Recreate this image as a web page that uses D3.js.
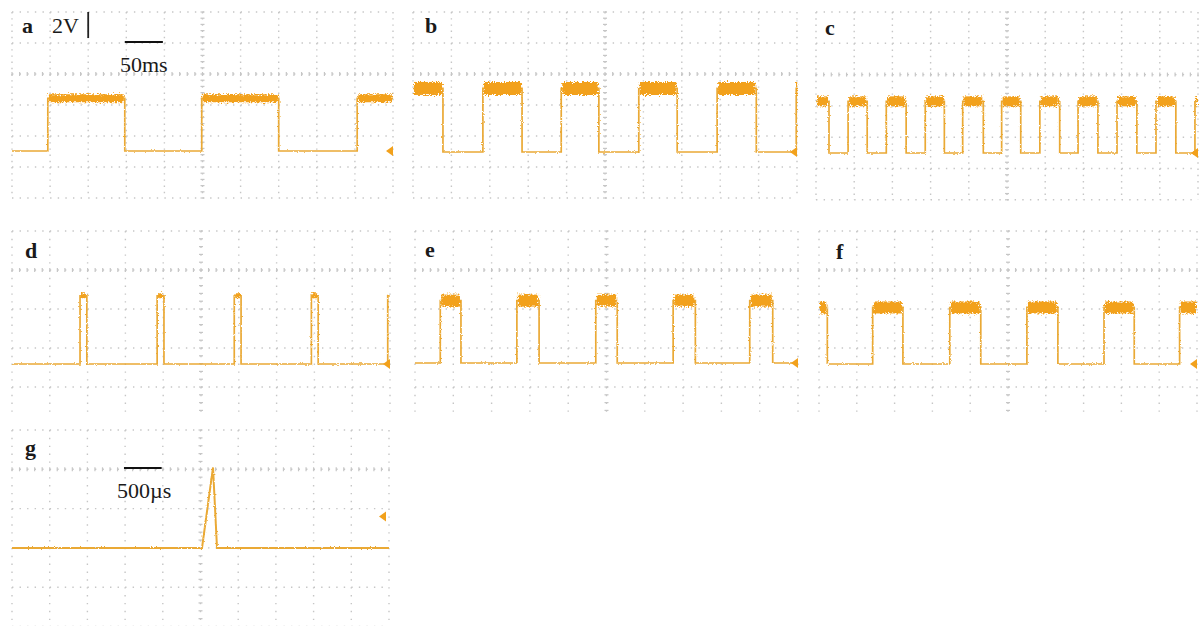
<!DOCTYPE html>
<html>
<head>
<meta charset="utf-8">
<script src="https://cdnjs.cloudflare.com/ajax/libs/d3/7.8.5/d3.min.js"></script>
<style>
body { margin: 0; background: #fff; }
svg { display: block; }
text { font-family: "Liberation Serif", "Times New Roman", serif; fill: #1a1a1a; }
</style>
</head>
<body>
<script>
// Oscilloscope traces a-g, 2 V/div, 50 ms/div (a-f) and 500 us/div (g)

// edge times in ms where each square wave toggles
var edgesA = [47, 148, 249, 350, 453];
var edgesB = [39, 91, 142, 193, 242, 294, 344, 396, 447, 499];
var edgesC = [17, 42, 67, 92, 118, 143, 168, 192, 219, 243,
              268, 293, 319, 343, 369, 394, 420, 445, 471, 496];
var edgesD = [90, 99, 192, 201, 294, 303, 396, 405, 497];
var edgesE = [33, 60, 133, 162, 236, 264, 337, 366, 437, 467];
var edgesF = [11, 71, 111, 173, 214, 275, 316, 377, 417, 477];
var startHigh = [false, true, true, false, false, true];
var highVolts = [3.4, 4.1, 3.3, 3.5, 3.2, 2.9];

// panel g: single spike, time in us, level in V
var spikeTimes = [0, 2520, 2666, 2719, 5000];
var spikeVolts = [0, 0, 4.1, 0, 0];
var triggerG = 1.6;

var panelLabels = ["a", "b", "c", "d", "e", "f", "g"];
var voltLabel = "2V";
var timeLabels = ["50ms", "500\u00b5s"];
var msPerDiv = 50, usPerDiv = 500;

var W = 1203, H = 626;
var traceColor = "#eaa935", bandColor = "#f2a11c", gridColor = "#c6c6c6";

// screen geometry of each panel
var layout = [
    {x0: 12, x1: 393, y0: 12, y1: 198, div: 31, ground: 151, dense: 2,
     lx: 22, ly: 33, band: 8},
    {x0: 413, x1: 797, y0: 12, y1: 198, div: 31, ground: 152, dense: 2,
     lx: 425, ly: 33, band: 13},
    {x0: 816, x1: 1198, y0: 12, y1: 200, div: 31.3, ground: 153, dense: 2,
     lx: 825, ly: 35, band: 10},
    {x0: 12, x1: 390, y0: 231, y1: 417, div: 39, ground: 364, dense: 1,
     lx: 25, ly: 258, band: 5},
    {x0: 415, x1: 798, y0: 231, y1: 417, div: 39, ground: 363, dense: 1,
     lx: 425, ly: 257, band: 12},
    {x0: 819, x1: 1197, y0: 231, y1: 417, div: 39, ground: 364, dense: 1,
     lx: 836, ly: 259, band: 12},
    {x0: 12, x1: 389, y0: 430, y1: 626, div: 39.3, ground: 548, dense: 1,
     lx: 25, ly: 455, band: 0}
];

var svg = d3.select("body").append("svg")
    .attr("width", W)
    .attr("height", H);

svg.append("rect").attr("width", W).attr("height", H).attr("fill", "#fff");

var defs = svg.append("defs");
function roughFilter(id, amount, seed) {
    var f = defs.append("filter").attr("id", id)
        .attr("filterUnits", "userSpaceOnUse")
        .attr("x", 0).attr("y", 0).attr("width", W).attr("height", H);
    f.append("feTurbulence").attr("type", "fractalNoise")
        .attr("baseFrequency", "0.7 0.9").attr("numOctaves", 2)
        .attr("seed", seed).attr("result", "n");
    f.append("feDisplacementMap").attr("in", "SourceGraphic").attr("in2", "n")
        .attr("scale", amount)
        .attr("xChannelSelector", "R").attr("yChannelSelector", "G");
}
roughFilter("roughBand", 6, 3);
roughFilter("roughLine", 2.5, 7);

function drawGrid(g, p) {
    var col = (p.x1 - p.x0) / 10;
    var xs = d3.range(11).map(function(i) { return p.x0 + i * col; });
    var ys = [];
    for (var y = p.y0; y <= p.y1 + 0.5; y += p.div) ys.push(y);

    g.selectAll(".hl").data(ys).enter().append("line")
        .attr("x1", p.x0).attr("x2", p.x1)
        .attr("y1", function(d) { return d; })
        .attr("y2", function(d) { return d; })
        .attr("stroke", gridColor).attr("stroke-width", 1.4)
        .attr("stroke-dasharray", "1.4," + (col / 5 - 1.4));
    g.selectAll(".vl").data(xs).enter().append("line")
        .attr("y1", p.y0).attr("y2", p.y1)
        .attr("x1", function(d) { return d; })
        .attr("x2", function(d) { return d; })
        .attr("stroke", gridColor).attr("stroke-width", 1.4)
        .attr("stroke-dasharray", "1.4," + (p.div / 5 - 1.4));

    // minor ticks on the centre lines
    var yd = p.y0 + p.dense * p.div;
    var hx = d3.range(0, 51).map(function(i) { return p.x0 + i * col / 5; });
    g.selectAll(".ht").data(hx).enter().append("line")
        .attr("x1", function(d) { return d; })
        .attr("x2", function(d) { return d; })
        .attr("y1", yd - 2).attr("y2", yd + 2)
        .attr("stroke", gridColor).attr("stroke-width", 1.2);
    var xc = p.x0 + 5 * col;
    var vy = [];
    for (var t = p.y0; t <= p.y1 + 0.5; t += p.div / 5) vy.push(t);
    g.selectAll(".vt").data(vy).enter().append("line")
        .attr("y1", function(d) { return d; })
        .attr("y2", function(d) { return d; })
        .attr("x1", xc - 2).attr("x2", xc + 2)
        .attr("stroke", gridColor).attr("stroke-width", 1.2);
}

function stepPoints(edges, high0, high, tEnd) {
    var v = high0 ? high : 0;
    var pts = [[0, v]];
    edges.forEach(function(t) {
        v = (v === 0) ? high : 0;
        pts.push([t, v]);
    });
    pts.push([tEnd, v]);
    return pts;
}

function arrow(g, x, y) {
    g.append("path")
        .attr("d", "M" + (x - 7) + "," + y + "L" + x + "," + (y - 5) +
              "L" + x + "," + (y + 5) + "Z")
        .attr("fill", bandColor);
}

var allEdges = [edgesA, edgesB, edgesC, edgesD, edgesE, edgesF];

layout.forEach(function(p, i) {
    var g = svg.append("g");
    drawGrid(g, p);

    var isG = (i === 6);
    var tEnd = isG ? 10 * usPerDiv : 10 * msPerDiv;
    var x = d3.scaleLinear().domain([0, tEnd]).range([p.x0, p.x1]);
    var y = d3.scaleLinear().domain([0, 2]).range([p.ground, p.ground - p.div]);

    if (!isG) {
        var pts = stepPoints(allEdges[i], startHigh[i], highVolts[i], tEnd);
        var line = d3.line()
            .x(function(d) { return x(d[0]); })
            .y(function(d) { return y(d[1]); })
            .curve(d3.curveStepAfter);
        g.append("path").attr("d", line(pts))
            .attr("fill", "none").attr("stroke", traceColor)
            .attr("stroke-width", 1.7)
            .attr("filter", "url(#roughLine)");

        var highs = [];
        for (var k = 0; k < pts.length - 1; k++) {
            if (pts[k][1] > 0) highs.push([pts[k][0], pts[k + 1][0], pts[k][1]]);
        }
        g.append("g").attr("filter", "url(#roughBand)")
            .selectAll("line").data(highs).enter().append("line")
            .attr("x1", function(d) { return x(d[0]) + 1; })
            .attr("x2", function(d) { return x(d[1]) - 1; })
            .attr("y1", function(d) { return y(d[2]); })
            .attr("y2", function(d) { return y(d[2]); })
            .attr("stroke", bandColor).attr("stroke-width", p.band);
        arrow(g, x(tEnd), y(0));
    } else {
        var spike = d3.line()
            .x(function(d, j) { return x(spikeTimes[j]); })
            .y(function(d) { return y(d); });
        g.append("path").attr("d", spike(spikeVolts))
            .attr("fill", "none").attr("stroke", traceColor)
            .attr("stroke-width", 2)
            .attr("filter", "url(#roughLine)");
        arrow(g, x(tEnd) - 3, y(triggerG));
    }

    g.append("text").attr("x", p.lx).attr("y", p.ly)
        .attr("font-size", 22).attr("font-weight", "bold")
        .text(panelLabels[i]);
});

// scale annotations
var pa = layout[0], pg = layout[6];
var xa = d3.scaleLinear().domain([0, 10 * msPerDiv]).range([pa.x0, pa.x1]);
var xg = d3.scaleLinear().domain([0, 10 * usPerDiv]).range([pg.x0, pg.x1]);

svg.append("text").attr("x", 52).attr("y", 33).attr("font-size", 22)
    .text(voltLabel);
svg.append("line")
    .attr("x1", xa(2 * msPerDiv)).attr("x2", xa(2 * msPerDiv))
    .attr("y1", 12).attr("y2", 38)
    .attr("stroke", "#222").attr("stroke-width", 1.8);

svg.append("line")
    .attr("x1", xa(148)).attr("x2", xa(148 + msPerDiv))
    .attr("y1", 42).attr("y2", 42)
    .attr("stroke", "#111").attr("stroke-width", 2.2);
svg.append("text").attr("x", 120).attr("y", 72).attr("font-size", 22)
    .text(timeLabels[0]);

svg.append("line")
    .attr("x1", xg(1485)).attr("x2", xg(1485 + usPerDiv))
    .attr("y1", 468).attr("y2", 468)
    .attr("stroke", "#111").attr("stroke-width", 2.2);
svg.append("text").attr("x", 117).attr("y", 498).attr("font-size", 22)
    .text(timeLabels[1]);
</script>
</body>
</html>
